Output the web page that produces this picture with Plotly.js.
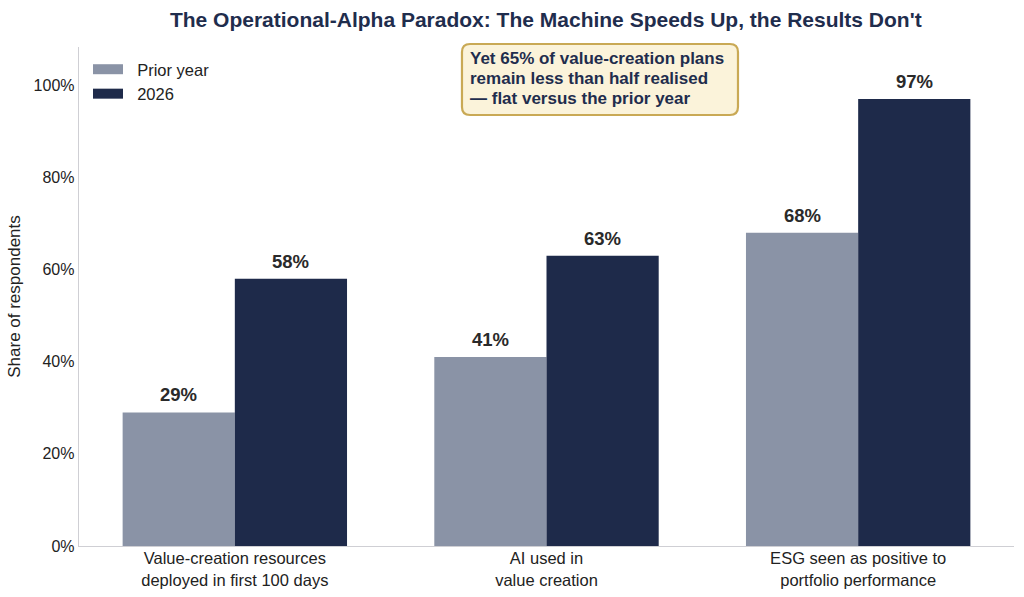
<!DOCTYPE html>
<html>
<head>
<meta charset="utf-8">
<script src="https://cdn.plot.ly/plotly-3.0.1.min.js"></script>
<style>
  html, body { margin: 0; padding: 0; background: #ffffff; }
  #chart { width: 1024px; height: 597px; }
</style>
</head>
<body>
<div id="chart"></div>
<script>
// Survey measures shown on the x axis
const categories = [
  'Value-creation resources<br>deployed in first 100 days',
  'AI used in<br>value creation',
  'ESG seen as positive to<br>portfolio performance'
];
// Share of respondents (%)
const priorYear = [29, 41, 68];
const year2026 = [58, 63, 97];
const seriesNames = ['Prior year', '2026'];
const calloutLines = [
  'Yet 65% of value-creation plans',
  'remain less than half realised',
  '— flat versus the prior year'
];

const FONT = '"Liberation Sans", Arial, Helvetica, sans-serif';
const NAVY = '#1e2a4a';
const SLATE = '#8a93a6';
const BAR_OFFSET = 0.18;
const seriesColors = [SLATE, NAVY];

const traces = [
  { type: 'bar', name: seriesNames[0], x: categories, y: priorYear,
    marker: { color: SLATE }, hoverinfo: 'skip', showlegend: false },
  { type: 'bar', name: seriesNames[1], x: categories, y: year2026,
    marker: { color: NAVY }, hoverinfo: 'skip', showlegend: false }
];
// Legend keys drawn as wide flat swatches
seriesNames.forEach((name, s) => {
  traces.push({ type: 'scatter', mode: 'lines', name: '\u00a0\u00a0' + name,
    x: [null], y: [null],
    line: { color: seriesColors[s], width: 11 }, hoverinfo: 'skip' });
});

// Value labels above each bar
const labels = [];
[priorYear, year2026].forEach((vals, s) => {
  vals.forEach((v, i) => {
    labels.push({
      x: i + (s === 0 ? -BAR_OFFSET : BAR_OFFSET), y: v, xref: 'x', yref: 'y',
      text: '<b>' + v + '%</b>', showarrow: false, yanchor: 'bottom', yshift: 5,
      font: { family: FONT, size: 18.5, color: '#2a2a2a' }
    });
  });
});

// Callout text, one line per annotation for tight line spacing
calloutLines.forEach((line, i) => {
  labels.push({
    xref: 'paper', yref: 'paper', x: 0.4165, y: 0.976 - i * 0.0395,
    xanchor: 'left', yanchor: 'middle', align: 'left', showarrow: false,
    text: '<b>' + line + '</b>',
    font: { family: FONT, size: 17, color: '#1f2d4d' }
  });
});

// Rounded callout frame in paper coordinates
function roundedRect(x0, y0, x1, y1, rx, ry) {
  return 'M' + (x0 + rx) + ',' + y1 +
    ' L' + (x1 - rx) + ',' + y1 + ' Q' + x1 + ',' + y1 + ' ' + x1 + ',' + (y1 - ry) +
    ' L' + x1 + ',' + (y0 + ry) + ' Q' + x1 + ',' + y0 + ' ' + (x1 - rx) + ',' + y0 +
    ' L' + (x0 + rx) + ',' + y0 + ' Q' + x0 + ',' + y0 + ' ' + x0 + ',' + (y0 + ry) +
    ' L' + x0 + ',' + (y1 - ry) + ' Q' + x0 + ',' + y1 + ' ' + (x0 + rx) + ',' + y1 + ' Z';
}

const layout = {
  width: 1024, height: 597,
  margin: { l: 79, r: 10, t: 47, b: 51 },
  paper_bgcolor: '#ffffff', plot_bgcolor: '#ffffff',
  font: { family: FONT, color: '#222222' },
  title: {
    text: "<b>The Operational-Alpha Paradox: The Machine Speeds Up, the Results Don't</b>",
    font: { family: FONT, size: 21, color: '#1f2d4d' },
    x: 0.533, xanchor: 'center', y: 0.967, yanchor: 'middle'
  },
  barmode: 'group', bargap: 0.28, bargroupgap: 0,
  xaxis: {
    type: 'category', range: [-0.5, 2.5],
    showline: true, linecolor: '#cfcfd4', linewidth: 1.3,
    ticks: '', showgrid: false, zeroline: false, ticklabelstandoff: -3,
    tickfont: { family: FONT, size: 16.5, color: '#222222' }
  },
  yaxis: {
    range: [0, 108.3], dtick: 20, ticksuffix: '%',
    showline: true, linecolor: '#cfcfd4', linewidth: 1.3,
    ticks: '', showgrid: false, zeroline: false,
    tickfont: { family: FONT, size: 16, color: '#222222' },
    title: { text: 'Share of respondents', standoff: 8,
      font: { family: FONT, size: 17, color: '#222222' } }
  },
  legend: {
    x: 0.0096, y: 0.99, xanchor: 'left', yanchor: 'top',
    bgcolor: 'rgba(255,255,255,0)', borderwidth: 0,
    font: { family: FONT, size: 16.5, color: '#222222' }
  },
  shapes: [{
    type: 'path', xref: 'paper', yref: 'paper', layer: 'below',
    path: roundedRect(0.4096, 0.8637, 0.7048, 1.006, 0.0086, 0.016),
    fillcolor: '#fbf3da', line: { color: '#c9a955', width: 2.2 }
  }],
  annotations: labels,
  showlegend: true
};

Plotly.newPlot('chart', traces, layout, { displayModeBar: false, staticPlot: true });
</script>
</body>
</html>
